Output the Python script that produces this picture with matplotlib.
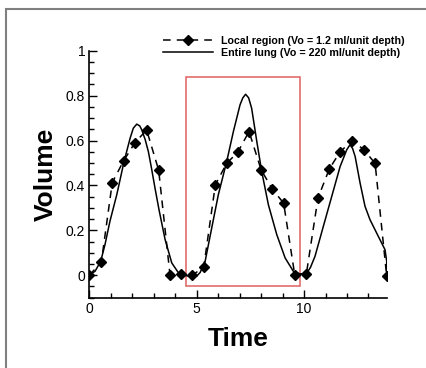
import matplotlib

matplotlib.use("Agg")
import matplotlib.pyplot as plt
from matplotlib.patches import Rectangle
from matplotlib.ticker import MultipleLocator, FormatStrFormatter

plt.rcParams["font.family"] = ["Liberation Sans", "DejaVu Sans"]

# local region (dashed with diamonds)
local_t = [0.00, 0.56, 1.07, 1.60, 2.13, 2.67, 3.23, 3.76, 4.27, 4.80, 5.33, 5.87, 6.40, 6.91,
           7.44, 8.00, 8.52, 9.05, 9.57, 10.11, 10.65, 11.18, 11.69, 12.24, 12.78, 13.31, 13.85]
local_v = [0.000, 0.058, 0.413, 0.510, 0.591, 0.647, 0.468, 0.000, 0.004, 0.000, 0.037, 0.403,
           0.499, 0.547, 0.640, 0.470, 0.384, 0.321, 0.000, 0.007, 0.344, 0.474, 0.551, 0.599,
           0.560, 0.498, -0.004]

# entire lung (solid)
lung_t = [0.00, 0.27, 0.53, 0.73, 0.96, 1.28, 1.62, 1.90, 2.05, 2.21, 2.35, 2.44, 2.60, 2.75,
          2.90, 3.06, 3.25, 3.53, 3.84, 4.15, 4.40, 4.61, 4.84, 5.00, 5.16, 5.39, 5.70, 6.01,
          6.40, 6.71, 7.02, 7.15, 7.28, 7.42, 7.56, 7.80, 8.03, 8.34, 8.73, 9.12, 9.50, 9.81,
          10.12, 10.30, 10.51, 10.90, 11.29, 11.68, 11.99, 12.14, 12.26, 12.38, 12.61, 12.84,
          13.07, 13.46, 13.77, 13.85, 13.85]
lung_v = [0.000, 0.018, 0.062, 0.136, 0.240, 0.359, 0.507, 0.610, 0.655, 0.673, 0.665, 0.648,
          0.605, 0.551, 0.475, 0.388, 0.290, 0.159, 0.055, 0.011, 0.002, -0.004, -0.008, -0.004,
          0.012, 0.060, 0.210, 0.359, 0.507, 0.640, 0.759, 0.790, 0.806, 0.790, 0.744, 0.596,
          0.462, 0.314, 0.181, 0.077, 0.018, 0.006, 0.008, 0.035, 0.084, 0.218, 0.351, 0.484,
          0.559, 0.581, 0.565, 0.529, 0.411, 0.307, 0.248, 0.173, 0.114, 0.062, -0.010]

box_t = (4.5, 9.8)
box_v = (-0.05, 0.885)

fig = plt.figure(figsize=(4.26, 3.68), dpi=100)
fig.patches.append(Rectangle((6 / 426, -0.1), 1.2, 1 - 9 / 368 + 0.1, transform=fig.transFigure,
                             fill=False, ec="#808080", lw=1.5))
ax = fig.add_axes([89.3 / 426, 70.3 / 368, 297.4 / 426, 247 / 368])

ax.plot(local_t, local_v, "k--", marker="D", ms=5.2, lw=1.1, dashes=(5, 4),
        label="Local region (Vo = 1.2 ml/unit depth)")
ax.plot(lung_t, lung_v, "k-", lw=1.1, label="Entire lung (Vo = 220 ml/unit depth)")
ax.add_patch(Rectangle((box_t[0], box_v[0]), box_t[1] - box_t[0], box_v[1] - box_v[0],
                       fill=False, ec="#e06060", lw=1.1))

ax.set_xlim(0, 13.85)
ax.set_ylim(-0.1, 1.0)
ax.spines[["top", "right"]].set_visible(False)
ax.spines[["left", "bottom"]].set_linewidth(1.2)
ax.xaxis.set_major_locator(MultipleLocator(5))
ax.xaxis.set_minor_locator(MultipleLocator(1))
ax.yaxis.set_major_locator(MultipleLocator(0.2))
ax.yaxis.set_minor_locator(MultipleLocator(0.05))
ax.yaxis.set_major_formatter(FormatStrFormatter("%g"))
ax.tick_params(which="both", direction="in", labelsize=10, width=1, pad=3)
ax.tick_params(which="major", length=6)
ax.tick_params(which="minor", length=3.5)
ax.set_xlabel("Time", fontsize=19, fontweight="bold", labelpad=8)
ax.set_ylabel("Volume", fontsize=19, fontweight="bold", labelpad=6)

fig.legend(loc="upper left", bbox_to_anchor=(163 / 426, 1 - 35.5 / 368), frameon=False,
           prop={"size": 7.7, "weight": "bold"}, handlelength=4.7, handletextpad=0.75,
           labelspacing=0.25, borderpad=0, borderaxespad=0)

fig.savefig("out.png", dpi=100)
